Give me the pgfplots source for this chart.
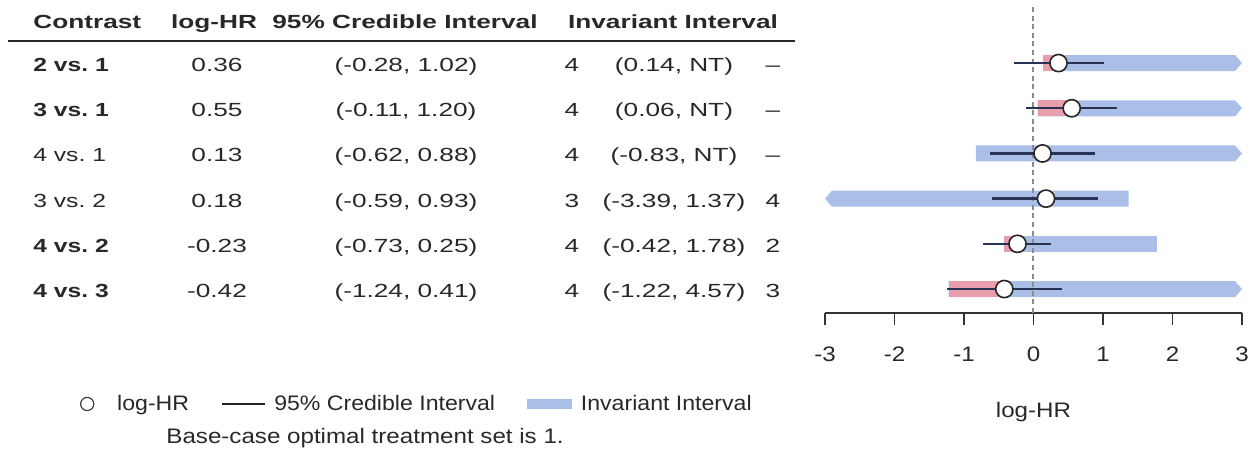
\documentclass[border=0pt]{standalone}
\usepackage{pgfplots}
\pgfplotsset{compat=1.18}
\usepackage{fontspec}
\setmainfont{Liberation Sans}[FakeStretch=1.15]
\newfontfamily\tabfont{Liberation Sans}[FakeStretch=1.38]
\newfontfamily\legfont{Liberation Sans}[FakeStretch=1.1]
\definecolor{band}{RGB}{170,191,232}
\definecolor{hot}{RGB}{232,158,172}
\definecolor{ci}{RGB}{40,50,85}
\definecolor{txt}{RGB}{40,40,40}
\newcommand\lgf{\fontsize{10.5}{12}\selectfont}
\newcommand\lef{\legfont\fontsize{10.5}{12}\selectfont}
\newcommand\tbf{\tabfont\fontsize{9.5}{11}\selectfont}

\begin{document}
\begin{tikzpicture}[x=0.5pt,y=-0.5pt]
\useasboundingbox (0,0) rectangle (1253,461);
\coordinate (O) at (825,313);

% table on the left
\begin{scope}[every node/.style={font=\tbf, text=txt, inner sep=0pt, anchor=base}]
  \node[anchor=base west] at (33,28) {\bfseries Contrast};
  \node at (214,28) {\bfseries log-HR};
  \node at (405,28) {\bfseries 95\% Credible Interval};
  \node at (673,28) {\bfseries Invariant Interval};
  \draw[txt, line width=1pt] (8,41) -- (795,41);
  \foreach \y/\c/\h/\ci/\n/\iv/\r in {
      71/{\bfseries 2 vs.~1}/0.36/{(-0.28, 1.02)}/4/{(0.14, NT)}/–,
      116/{\bfseries 3 vs.~1}/0.55/{(-0.11, 1.20)}/4/{(0.06, NT)}/–,
      161/{4 vs.~1}/0.13/{(-0.62, 0.88)}/4/{(-0.83, NT)}/–,
      207/{3 vs.~2}/0.18/{(-0.59, 0.93)}/3/{(-3.39, 1.37)}/4,
      252/{\bfseries 4 vs.~2}/-0.23/{(-0.73, 0.25)}/4/{(-0.42, 1.78)}/2,
      297/{\bfseries 4 vs.~3}/-0.42/{(-1.24, 0.41)}/4/{(-1.22, 4.57)}/3}{
    \node[anchor=base west, xscale=0.94] at (33,\y) {\c};
    \node at (217,\y) {\h};
    \node at (406,\y) {\ci};
    \node at (572,\y) {\n};
    \node at (674,\y) {\iv};
    \node at (773,\y) {\r};
  }
\end{scope}

\node[anchor=base west, font=\lgf, text=txt, inner sep=0pt] at (166,443)
  {Base-case optimal treatment set is 1.};

\begin{axis}[
  at={(O)}, anchor=south west,
  scale only axis, width=208.5pt, height=153.9pt,
  xmin=-3, xmax=3, ymin=-6.53, ymax=0.28,
  axis x line*=bottom, axis y line=none,
  xtick={-3,-2,-1,0,1,2,3}, ytick=\empty,
  tick align=outside, major tick length=6pt,
  tick style={black!80, line width=0.6pt},
  axis line style={black!80, line width=0.7pt},
  /pgf/number format/assume math mode=true,
  xticklabel style={font=\lgf, text=txt, anchor=base, yshift=-18pt},
  xlabel={log-HR},
  xlabel style={at={(axis description cs:0.5,0)}, anchor=base, yshift=-52pt, font=\lgf, text=txt},
  clip=false,
  legend style={at={(axis description cs:-1.7866,-0.2955)}, anchor=west, draw=none, fill=none, inner sep=0pt,
    outer sep=0pt, legend columns=3, font=\lef, text=txt, nodes={inner sep=0pt},
    /tikz/every odd column/.append style={column sep=4.5pt},
    /tikz/every even column/.append style={column sep=16pt}},
  legend cell align=left,
]
% invariant intervals
\addplot[fill=band, draw=none, forget plot] coordinates {(0.14,-1.177) (2.9,-1.177) (3,-1) (2.9,-0.823) (0.14,-0.823)};
\addplot[fill=band, draw=none, forget plot] coordinates {(0.06,-2.177) (2.9,-2.177) (3,-2) (2.9,-1.823) (0.06,-1.823)};
\addplot[fill=band, draw=none, forget plot] coordinates {(-0.83,-3.177) (2.9,-3.177) (3,-3) (2.9,-2.823) (-0.83,-2.823)};
\addplot[fill=band, draw=none, forget plot] coordinates {(-3,-4) (-2.9,-4.177) (1.37,-4.177) (1.37,-3.823) (-2.9,-3.823)};
\addplot[fill=band, draw=none, forget plot] coordinates {(-0.42,-5.177) (1.78,-5.177) (1.78,-4.823) (-0.42,-4.823)};
\addplot[fill=band, draw=none, forget plot] coordinates {(-1.22,-6.177) (2.9,-6.177) (3,-6) (2.9,-5.823) (-1.22,-5.823)};
% part of the invariant interval below the estimate
\addplot[fill=hot, draw=none, forget plot] coordinates {(0.14,-1.177) (0.36,-1.177) (0.36,-0.823) (0.14,-0.823)};
\addplot[fill=hot, draw=none, forget plot] coordinates {(0.06,-2.177) (0.55,-2.177) (0.55,-1.823) (0.06,-1.823)};
\addplot[fill=hot, draw=none, forget plot] coordinates {(-0.42,-5.177) (-0.23,-5.177) (-0.23,-4.823) (-0.42,-4.823)};
\addplot[fill=hot, draw=none, forget plot] coordinates {(-1.22,-6.177) (-0.42,-6.177) (-0.42,-5.823) (-1.22,-5.823)};
% reference line
\addplot[black!45, line width=1pt, dash pattern=on 2.5pt off 1.8pt, forget plot] coordinates {(0,-6.53) (0,0.28)};
% credible intervals
\addplot[ci, line width=1.2pt, forget plot] coordinates {(-0.28,-1) (1.02,-1)};
\addplot[ci, line width=1.2pt, forget plot] coordinates {(-0.11,-2) (1.20,-2)};
\addplot[ci, line width=1.2pt, forget plot] coordinates {(-0.62,-3) (0.88,-3)};
\addplot[ci, line width=1.2pt, forget plot] coordinates {(-0.59,-4) (0.93,-4)};
\addplot[ci, line width=1.2pt, forget plot] coordinates {(-0.73,-5) (0.25,-5)};
\addplot[ci, line width=1.2pt, forget plot] coordinates {(-1.24,-6) (0.41,-6)};
% estimates
\addplot[only marks, mark=*, mark size=4.3pt, mark options={fill=white, draw=black!85, line width=0.8pt}, forget plot]
  coordinates {(0.36,-1) (0.55,-2) (0.13,-3) (0.18,-4) (-0.23,-5) (-0.42,-6)};
% legend
\addlegendimage{legend image code/.code={\draw[black!75, line width=0.6pt, fill=white] (0pt,0pt) circle (3.3pt); \path[draw=none, fill=none] (-3.3pt,0pt) -- (10.5pt,0pt);}}
\addlegendimage{legend image code/.code={\draw[black!85, line width=0.6pt] (0pt,0pt) -- (21.5pt,0pt);}}
\addlegendimage{legend image code/.code={\fill[band] (0pt,-2.3pt) rectangle (22pt,2.3pt);}}
\legend{log-HR, 95\% Credible Interval, Invariant Interval}
\end{axis}
\end{tikzpicture}
\end{document}
